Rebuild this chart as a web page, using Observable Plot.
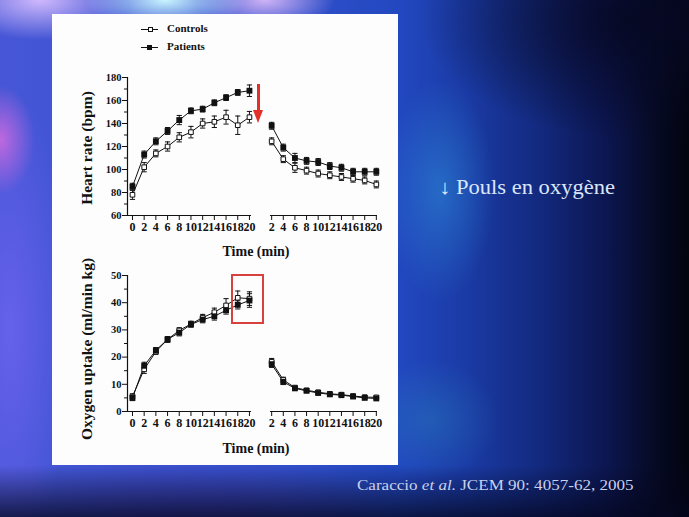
<!DOCTYPE html>
<html>
<head>
<meta charset="utf-8">
<script src="https://cdn.jsdelivr.net/npm/d3@7"></script>
<script src="https://cdn.jsdelivr.net/npm/@observablehq/plot@0.6"></script>
<style>
  html, body { margin: 0; padding: 0; }
  body {
    width: 689px; height: 517px; overflow: hidden; position: relative;
    font-family: "Liberation Serif", "Times New Roman", serif;
    background:
      linear-gradient(to bottom, rgba(4,6,30,0) 0%, rgba(4,6,30,0) 90%, rgba(4,6,30,0.75) 100%),
      radial-gradient(ellipse 80px 30px at 165px 0px, rgba(200,245,255,1), rgba(200,245,255,0) 100%),
      radial-gradient(ellipse 90px 40px at 40px 0px, rgba(215,190,255,0.95), rgba(215,190,255,0) 100%),
      radial-gradient(ellipse 70px 30px at 265px 0px, rgba(225,190,250,0.9), rgba(225,190,250,0) 100%),
      radial-gradient(ellipse 35px 55px at 0px 140px, rgba(230,110,225,0.75), rgba(230,110,225,0) 100%),
      radial-gradient(ellipse 60px 240px at 10px 330px, rgba(110,100,240,0.8), rgba(110,100,240,0) 100%),
      radial-gradient(ellipse 220px 120px at 640px 20px, rgba(6,8,35,0.95), rgba(6,8,35,0) 100%),
      radial-gradient(ellipse 55px 110px at 440px 190px, rgba(45,140,215,0.55), rgba(45,140,215,0) 100%),
      radial-gradient(ellipse 70px 60px at 430px 420px, rgba(40,130,185,0.4), rgba(40,130,185,0) 100%),
      radial-gradient(ellipse 200px 60px at 200px 517px, rgba(70,60,180,0.6), rgba(70,60,180,0) 100%),
      linear-gradient(to right, #4656d6 0%, #3350cc 40%, #2248c0 58%, #1a3aa4 68%, #132a80 78%, #0c1650 88%, #060a24 95%, #02040e 100%);
  }
  .abs { position: absolute; }
  #panel { left: 52px; top: 14px; width: 346px; height: 451px; background: #fdfdfd; }
  .lbl { font-weight: bold; font-size: 14px; color: #111; white-space: nowrap; }
  .ylab { transform: translate(-50%, -50%) rotate(-90deg); font-weight: bold; font-size: 15.5px; color: #111; white-space: nowrap; }
  .leg { font-weight: bold; font-size: 11px; color: #111; white-space: nowrap; }
</style>
</head>
<body>
<div id="panel" class="abs"></div>
<div id="charts"></div>

<div class="abs" style="left:141px; top:29px; width:17px; height:0; border-top:1px solid #111;"></div>
<div class="abs" style="left:147.5px; top:27px; width:3px; height:3px; border:1px solid #111; background:#fff;"></div>
<div class="abs leg" style="left:167px; top:22px;">Controls</div>
<div class="abs" style="left:141px; top:47px; width:17px; height:0; border-top:1px solid #111;"></div>
<div class="abs" style="left:147px; top:44.5px; width:5px; height:5px; background:#111;"></div>
<div class="abs leg" style="left:167px; top:40px;">Patients</div>

<div class="abs ylab" style="left:87px; top:148px;">Heart rate (bpm)</div>
<div class="abs ylab" style="left:87px; top:349px;">Oxygen uptake (ml/min kg)</div>
<div class="abs lbl" style="left:256px; top:252px; transform:translate(-50%,-50%);">Time (min)</div>
<div class="abs lbl" style="left:256px; top:449px; transform:translate(-50%,-50%);">Time (min)</div>

<!-- red arrow annotation -->
<div class="abs" style="left:257px; top:84px; width:2.6px; height:28px; background:#e2302a;"></div>
<div class="abs" style="left:253px; top:110px; width:0; height:0; border-left:5.3px solid transparent; border-right:5.3px solid transparent; border-top:13px solid #e2302a;"></div>
<!-- red box annotation -->
<div class="abs" style="left:231px; top:274px; width:29px; height:46px; border:2px solid #d8413c;"></div>

<div class="abs" style="left:439px; top:187px; transform:translateY(-50%) scaleX(1.1); transform-origin:left center; font-size:20.5px; color:#dbe6fb; white-space:nowrap;">↓ Pouls en oxygène</div>
<div class="abs" style="left:357px; top:485px; transform:translateY(-50%) scaleX(1.1); transform-origin:left center; font-size:15.5px; color:#c9d1ec; white-space:nowrap;">Caraccio <i>et al.</i> JCEM 90: 4057-62, 2005</div>

<script>
// ---------- data ----------
const groups = ["Controls", "Patients"];
const timeEx = [0, 2, 4, 6, 8, 10, 12, 14, 16, 18, 20];
const timeRec = [2, 4, 6, 8, 10, 12, 14, 16, 18, 20];

const hrExControls     = [78, 102, 114, 120, 128, 132.5, 140, 141.5, 145.5, 138.5, 145.5];
const hrExControlsSem  = [4, 4, 3, 4, 4, 5, 4, 5, 6, 8, 5];
const hrExPatients     = [85, 113, 124.5, 133.5, 143, 151, 152.5, 158, 162.5, 167, 168.5];
const hrExPatientsSem  = [3, 3, 3, 3, 4, 2.5, 2.5, 2.5, 2.5, 2.5, 5];
const hrRecControls    = [124.5, 109, 101.5, 99, 96.5, 95, 93.5, 92, 90.5, 87];
const hrRecControlsSem = [3, 3, 4, 3, 3, 3, 3, 3, 3, 3];
const hrRecPatients    = [138, 119, 110, 107.5, 106.5, 103, 101.5, 98, 98, 98];
const hrRecPatientsSem = [3, 3, 4, 3, 3, 3, 3, 3, 3, 3];

const vo2ExControls     = [5.5, 15.5, 22, 26.5, 29.8, 32.2, 34.5, 36.5, 39, 41.8, 41.5];
const vo2ExControlsSem  = [1, 1.5, 1, 1, 1, 1, 1.2, 1.5, 2.5, 2.5, 2.5];
const vo2ExPatients     = [5, 16.8, 22.5, 26.5, 29, 32, 33.8, 35, 37.2, 39.2, 40.8];
const vo2ExPatientsSem  = [1, 1.3, 1, 1, 1.2, 1, 1.2, 1.4, 1.4, 1.5, 2.5];
const vo2RecControls    = [18.3, 11.6, 8.8, 7.8, 7.1, 6.5, 6.2, 5.7, 5.3, 5.2];
const vo2RecControlsSem = [1.2, 1, 0.6, 0.6, 0.6, 0.5, 0.5, 0.5, 0.5, 0.6];
const vo2RecPatients    = [17.4, 10.9, 8.5, 7.6, 6.8, 6.3, 6.0, 5.5, 5.0, 4.8];
const vo2RecPatientsSem = [1.2, 1, 0.6, 0.6, 0.6, 0.5, 0.5, 0.5, 0.5, 0.6];

const hrTicks = [60, 80, 100, 120, 140, 160, 180];
const hrMinor = [70, 90, 110, 130, 150, 170];
const vo2Ticks = [0, 10, 20, 30, 40, 50];
const vo2Minor = [5, 15, 25, 35, 45];

// ---------- build ----------
function rows(times, cv, cs, pv, ps) {
  const out = [];
  times.forEach((t, i) => out.push({t, v: cv[i], se: cs[i], group: groups[0]}));
  times.forEach((t, i) => out.push({t, v: pv[i], se: ps[i], group: groups[1]}));
  return out;
}

const capSymbol = {
  draw(ctx, size) { const w = Math.sqrt(size / Math.PI); ctx.moveTo(-w, 0); ctx.lineTo(w, 0); }
};

function panel({data, xDomain, xTicks, yDomain, yTicks, yMinor, showY, left, top, width, height, ml, mr, mt, mb}) {
  const marks = [
    Plot.ruleY([yDomain[0]], {stroke: "#111", strokeWidth: 1.2}),
    Plot.axisX({ticks: xTicks, tickSize: 5, tickPadding: 2, label: null, stroke: "#111", fontSize: 12}),
  ];
  if (showY) {
    marks.push(
      Plot.ruleX([xDomain[0]], {stroke: "#111", strokeWidth: 1.2}),
      Plot.axisY({ticks: yTicks, tickSize: 5, tickPadding: 1, label: null, fontSize: 10.5}),
      Plot.axisY({ticks: yMinor, tickSize: 3, tickFormat: () => "", label: null})
    );
  }
  marks.push(
    Plot.ruleX(data, {x: "t", y1: d => d.v - d.se, y2: d => d.v + d.se, stroke: "#111", strokeWidth: 1}),
    Plot.dot(data, {x: "t", y: d => d.v + d.se, symbol: capSymbol, r: 2.6, stroke: "#111", strokeWidth: 1}),
    Plot.dot(data, {x: "t", y: d => d.v - d.se, symbol: capSymbol, r: 2.6, stroke: "#111", strokeWidth: 1}),
    Plot.line(data, {x: "t", y: "v", z: "group", stroke: "#111", strokeWidth: 1}),
    Plot.dot(data.filter(d => d.group === groups[0]), {x: "t", y: "v", symbol: "square", r: 2.6, fill: "white", stroke: "#111", strokeWidth: 1}),
    Plot.dot(data.filter(d => d.group === groups[1]), {x: "t", y: "v", symbol: "square", r: 3.3, fill: "#111"})
  );
  const svg = Plot.plot({
    width, height, marginLeft: ml, marginRight: mr, marginTop: mt, marginBottom: mb,
    x: {domain: xDomain, label: null},
    y: showY ? {domain: yDomain, label: null} : {domain: yDomain, label: null, axis: null},
    style: {background: "transparent", color: "#111", fontFamily: "'Liberation Serif', 'Times New Roman', serif",
            fontSize: "10.5px", fontWeight: "bold", overflow: "visible"},
    marks
  });
  const wrap = document.createElement("div");
  wrap.className = "abs";
  wrap.style.left = left + "px";
  wrap.style.top = top + "px";
  wrap.appendChild(svg);
  document.getElementById("charts").appendChild(wrap);
}

const exX = [-0.85, 20.35];
const recX = [1.8, 20.2];

panel({data: rows(timeEx, hrExControls, hrExControlsSem, hrExPatients, hrExPatientsSem),
  xDomain: exX, xTicks: timeEx, yDomain: [hrTicks[0], hrTicks[hrTicks.length - 1]], yTicks: hrTicks, yMinor: hrMinor, showY: true,
  left: 52, top: 60, width: 205, height: 185, ml: 75, mr: 6, mt: 17, mb: 30});
panel({data: rows(timeRec, hrRecControls, hrRecControlsSem, hrRecPatients, hrRecPatientsSem),
  xDomain: recX, xTicks: timeRec, yDomain: [hrTicks[0], hrTicks[hrTicks.length - 1]], showY: false,
  left: 260, top: 60, width: 123, height: 185, ml: 10, mr: 6, mt: 17, mb: 30});
panel({data: rows(timeEx, vo2ExControls, vo2ExControlsSem, vo2ExPatients, vo2ExPatientsSem),
  xDomain: exX, xTicks: timeEx, yDomain: [vo2Ticks[0], vo2Ticks[vo2Ticks.length - 1]], yTicks: vo2Ticks, yMinor: vo2Minor, showY: true,
  left: 52, top: 255, width: 205, height: 186, ml: 75, mr: 6, mt: 20, mb: 30});
panel({data: rows(timeRec, vo2RecControls, vo2RecControlsSem, vo2RecPatients, vo2RecPatientsSem),
  xDomain: recX, xTicks: timeRec, yDomain: [vo2Ticks[0], vo2Ticks[vo2Ticks.length - 1]], showY: false,
  left: 260, top: 255, width: 123, height: 186, ml: 10, mr: 6, mt: 20, mb: 30});
</script>
</body>
</html>
